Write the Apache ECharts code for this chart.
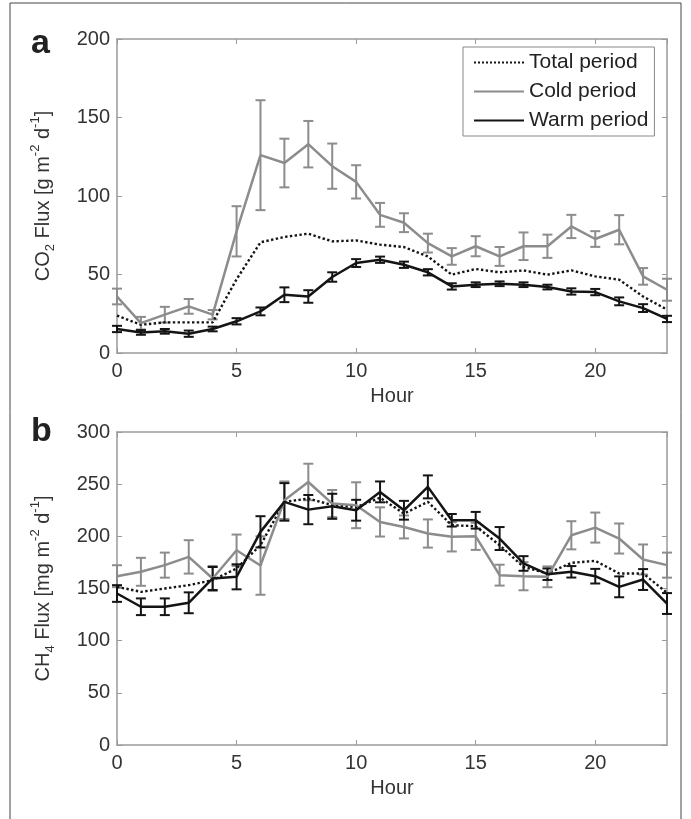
<!DOCTYPE html>
<html>
<head>
<meta charset="utf-8">
<script src="https://cdn.jsdelivr.net/npm/echarts@6/dist/echarts.min.js"></script>
<style>
  html, body { margin: 0; padding: 0; background: #fff; }
  #chart { width: 691px; height: 819px; }
</style>
</head>
<body>
<div id="chart"></div>
<script>
// hours of the day
const hours = [0, 1, 2, 3, 4, 5, 6, 7, 8, 9, 10, 11, 12, 13, 14, 15, 16, 17, 18, 19, 20, 21, 22, 23]

// panel a: CO2 flux
const co2Total = [23.8, 18, 19.5, 19.5, 19.5, 47, 70.5, 73.9, 76, 71.1, 71.7, 69, 67.5, 61.5, 49.9, 53.5, 51.4, 52.6, 49.9, 52.6, 48.8, 46.7, 36, 27.6]
const co2Cold = [36, 19, 24.4, 29.7, 24.4, 77.5, 126, 121, 133, 119, 109, 88, 83, 70, 61.5, 68, 61.5, 68, 68, 80.6, 72.6, 78.5, 48.8, 40.3]
const co2ColdErr = [5, 4, 5, 4.7, 3, 16, 35, 15.5, 14.8, 14.4, 10.6, 7.6, 6, 6, 5.3, 6.4, 6, 8.8, 7.4, 7.4, 5, 9.3, 5.3, 7]
const co2Warm = [15.3, 13.1, 13.8, 12.3, 15.3, 20.2, 26.5, 37.1, 36, 48.4, 57.3, 59.4, 56.2, 51.4, 42.4, 43.5, 44.1, 43.5, 42, 39.2, 38.8, 32.9, 28.6, 21.7]
const co2WarmErr = [2, 1.5, 1.5, 2, 1.5, 2, 2.5, 4.7, 4, 3, 2.5, 2, 2, 2, 2, 1.5, 1.5, 1.5, 1.5, 2, 2, 2.5, 2.5, 2]

// panel b: CH4 flux
const ch4Total = [151.6, 146.8, 150, 153.2, 158, 169.2, 191.5, 233, 236.2, 230, 228, 237, 221.8, 233, 210.7, 209.7, 191.5, 170.7, 164.4, 174.6, 176.5, 164.4, 164.4, 145.9]
const ch4Cold = [161.8, 166, 172.4, 180.3, 159.6, 186.7, 172, 234.6, 252.1, 231.4, 229.8, 213.8, 209, 202.7, 199.5, 200, 162.8, 161.8, 161.2, 201, 208.4, 197.9, 177.8, 172.4]
const ch4ColdErr = [10.5, 13.4, 12, 16, 12, 15, 28, 18, 17.5, 13, 22, 14, 11, 13.5, 14, 13, 10, 13.5, 10, 13.5, 14.4, 14.4, 14.4, 12]
const ch4Warm = [145.2, 132.5, 132.5, 136.3, 159.6, 161.2, 204.3, 233, 225.6, 228.8, 225, 242.6, 225, 247.4, 215.4, 215.4, 197.9, 174, 163.7, 166, 161.8, 151.6, 158.6, 135.6]
const ch4WarmErr = [8, 8, 8, 10, 11, 12, 15, 18, 14, 12, 10, 10, 9, 11, 6, 8, 11, 7, 5.5, 5.5, 7, 10, 10, 10]

const GRAY = '#8c8c8c'
const BLACK = '#141414'
const AXIS = '#9a9a9a'
const FONT = 'Liberation Sans, Arial, sans-serif'

let chart = echarts.init(document.getElementById('chart'))

function pairs(vals) {
  return hours.map((h, i) => [h, vals[i]])
}

function lineSeries(name, vals, color, type, idx) {
  return {
    name: name, type: 'line', xAxisIndex: idx, yAxisIndex: idx,
    data: pairs(vals), symbol: 'none', animation: false,
    lineStyle: { color: color, width: type === 'solid' ? 2.5 : 2.4, type: type },
    itemStyle: { color: color, opacity: 0 }
  }
}

// error bars drawn as custom marks from low/high values
function errSeries(vals, errs, color, idx) {
  return {
    type: 'custom', xAxisIndex: idx, yAxisIndex: idx, animation: false,
    data: hours.map((h, i) => [h, vals[i] - errs[i], vals[i] + errs[i]]),
    encode: { x: 0, y: [1, 2] },
    renderItem: function (params, api) {
      let lo = api.coord([api.value(0), api.value(1)])
      let hi = api.coord([api.value(0), api.value(2)])
      let w = 5
      let st = { stroke: color, lineWidth: 2 }
      return {
        type: 'group', children: [
          { type: 'line', shape: { x1: lo[0], y1: lo[1], x2: hi[0], y2: hi[1] }, style: st },
          { type: 'line', shape: { x1: lo[0] - w, y1: lo[1], x2: lo[0] + w, y2: lo[1] }, style: st },
          { type: 'line', shape: { x1: hi[0] - w, y1: hi[1], x2: hi[0] + w, y2: hi[1] }, style: st }
        ]
      }
    }
  }
}

function xAxes(grid, pos, labels) {
  return {
    type: 'value', gridIndex: grid, position: pos, min: 0, max: 23, interval: 5,
    name: labels ? 'Hour' : '', nameLocation: 'middle', nameGap: 33,
    nameTextStyle: { fontSize: 20, color: '#333', fontFamily: FONT },
    axisLine: { show: true, onZero: false, lineStyle: { color: AXIS, width: 1.5 } },
    axisTick: { show: true, inside: true, length: 5, lineStyle: { color: AXIS } },
    axisLabel: { show: labels, showMaxLabel: false, margin: 8, fontSize: 20, color: '#333', fontFamily: FONT },
    splitLine: { show: false }
  }
}

function yAxes(grid, pos, max, name) {
  return {
    type: 'value', gridIndex: grid, position: pos, min: 0, max: max, interval: 50,
    name: name || '', nameLocation: 'middle', nameGap: 60, nameRotate: 90,
    nameTextStyle: {
      color: '#333', fontFamily: FONT,
      rich: {
        n: { fontSize: 20, lineHeight: 28, fontFamily: FONT, color: '#333', verticalAlign: 'middle' },
        sub: { fontSize: 13, lineHeight: 28, fontFamily: FONT, color: '#333', verticalAlign: 'bottom' },
        sup: { fontSize: 13, lineHeight: 28, fontFamily: FONT, color: '#333', verticalAlign: 'top' }
      }
    },
    axisLine: { show: true, onZero: false, lineStyle: { color: AXIS, width: 1.5 } },
    axisTick: { show: true, inside: true, length: 5, lineStyle: { color: AXIS } },
    axisLabel: { show: !!name, margin: 7, fontSize: 20, color: '#333', fontFamily: FONT },
    splitLine: { show: false }
  }
}

let option = {
  backgroundColor: '#fff',
  animation: false,
  grid: [
    { left: 117, top: 39, width: 550, height: 314 },
    { left: 117, top: 432, width: 550, height: 313 }
  ],
  xAxis: [
    xAxes(0, 'bottom', true), xAxes(1, 'bottom', true),
    xAxes(0, 'top', false), xAxes(1, 'top', false)
  ],
  yAxis: [
    yAxes(0, 'left', 200, '{n|CO}{sub|2}{n| Flux [g m}{sup|-2}{n| d}{sup|-1}{n|]}'),
    yAxes(1, 'left', 300, '{n|CH}{sub|4}{n| Flux [mg m}{sup|-2}{n| d}{sup|-1}{n|]}'),
    yAxes(0, 'right', 200), yAxes(1, 'right', 300)
  ],
  legend: {
    data: ['Total period', 'Cold period', 'Warm period'],
    orient: 'vertical', left: 463, top: 47,
    itemWidth: 50, itemHeight: 14, itemGap: 8,
    padding: [5, 6, 5, 10],
    itemStyle: { opacity: 0 },
    borderColor: '#888', borderWidth: 1, backgroundColor: '#fff',
    textStyle: { fontSize: 21, color: '#222', fontFamily: FONT },
    selectedMode: false
  },
  graphic: [
    { type: 'rect', shape: { x: 10, y: 3, width: 671, height: 830 }, style: { fill: 'none', stroke: '#444', lineWidth: 1 }, silent: true },
    { type: 'text', left: 31, top: 27, style: { text: 'a', font: 'bold 34px ' + FONT, fill: '#222' } },
    { type: 'text', left: 31, top: 415, style: { text: 'b', font: 'bold 34px ' + FONT, fill: '#222' } }
  ],
  series: [
    lineSeries('Total period', co2Total, BLACK, 'dotted', 0),
    lineSeries('Cold period', co2Cold, GRAY, 'solid', 0),
    errSeries(co2Cold, co2ColdErr, GRAY, 0),
    lineSeries('Warm period', co2Warm, BLACK, 'solid', 0),
    errSeries(co2Warm, co2WarmErr, BLACK, 0),
    lineSeries('Total period', ch4Total, BLACK, 'dotted', 1),
    lineSeries('Cold period', ch4Cold, GRAY, 'solid', 1),
    errSeries(ch4Cold, ch4ColdErr, GRAY, 1),
    lineSeries('Warm period', ch4Warm, BLACK, 'solid', 1),
    errSeries(ch4Warm, ch4WarmErr, BLACK, 1)
  ]
}

chart.setOption(option)
</script>
</body>
</html>
